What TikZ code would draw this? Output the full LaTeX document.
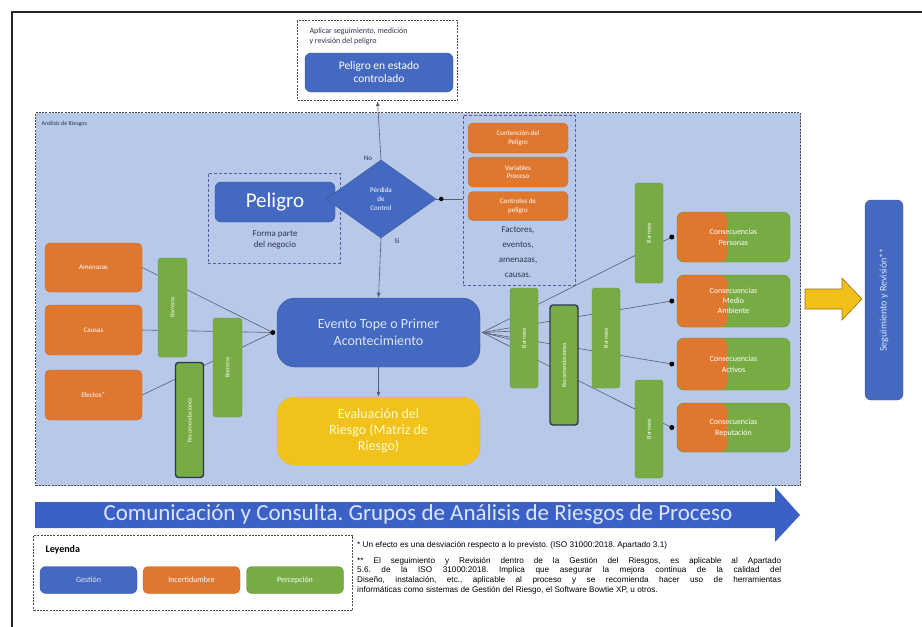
\documentclass[tikz,border=0pt]{standalone}
\usepackage{fontspec}
\setmainfont{Carlito}
\newfontfamily\notefont{Liberation Sans}
\usetikzlibrary{shapes.geometric,arrows.meta}
\pgfdeclarelayer{bg}
\pgfdeclarelayer{lines}
\pgfsetlayers{bg,lines,main}
\definecolor{bgblue}{HTML}{B8C8E8}
\definecolor{gblue}{HTML}{4469C0}
\definecolor{iorange}{HTML}{E0772F}
\definecolor{pgreen}{HTML}{76AC43}
\definecolor{gyellow}{HTML}{F2C21C}
\definecolor{abblue}{HTML}{3C61C6}
\definecolor{txtlight}{HTML}{DCE6FA}
\definecolor{darktxt}{HTML}{2E3550}
\newcommand\fsz[2]{\fontsize{#1}{#2}\selectfont}
\frenchspacing
\begin{document}
\begin{tikzpicture}[x=1pt,y=-1pt,
  gbox/.style={draw=gblue!80!black, fill=gblue, rounded corners=6pt, text=white, align=center, inner sep=1pt},
  obox/.style={draw=iorange!90!black, fill=iorange, rounded corners=5pt, text=white, align=center, inner sep=1pt, font=\fsz{7}{8.5}},
  gren/.style={draw=pgreen!90!black, fill=pgreen, rounded corners=3pt, text=white, align=center, inner sep=0pt, rotate=90, font=\fsz{6}{7}},
  recom/.style={gren, draw=darktxt, line width=1.4pt},
  cons/.style={rounded corners=7pt, fill=pgreen, draw=pgreen!85!black, text=white, align=center, inner sep=0pt,
     minimum width=113pt, font=\fsz{8}{11},
     path picture={\fill[iorange] (path picture bounding box.south west) rectangle ([xshift=-6.5pt]path picture bounding box.north);}},
  dashbox/.style={draw=black!70, line width=1.1pt, dash pattern=on 2pt off 1.2pt, inner sep=0pt},
  thindash/.style={draw=gray!70!blue, densely dashed, line width=0.5pt, inner sep=0pt},
  conn/.style={draw=darktxt!80, line width=0.6pt}
]
\useasboundingbox (0,0) rectangle (922,627);

% outer frame (top and left)
\draw[line width=2.5pt, black!85] (12,627) -- (12,12) -- (922,12);

% analysis area
\begin{pgfonlayer}{bg}
\node[dashbox, fill=bgblue, minimum width=765pt, minimum height=373pt, anchor=north west] (an) at (35,112) {};
\end{pgfonlayer}
\node[anchor=north west, font=\fsz{6}{7}, text=darktxt] (anlbl) at (38,118) {Análisis de Riesgos};

% top box
\node[dashbox, fill=white, minimum width=160pt, minimum height=80pt, anchor=north west] (topbox) at (297,20) {};
\node[anchor=north west, font=\fsz{8}{10.5}, align=left, text=darktxt] (toplbl) at (306,24) {Aplicar seguimiento, medición\\y revisión del peligro};
\node[gbox, minimum width=148pt, minimum height=39pt, font=\fsz{11.5}{13}] (ctrl) at (379,72.5) {Peligro en estado\\controlado};

% peligro
\node[thindash, minimum width=132pt, minimum height=90pt] (pbox) at (274,218) {};
\node[gbox, minimum width=120pt, minimum height=40pt, font=\fsz{21}{22}] (pel) at (275,202) {Peligro};
\node[font=\fsz{9}{11}, align=center, text=darktxt] (forma) at (275,240) {Forma parte\\del negocio};

% diamond
\node[diamond, draw=gblue!80!black, fill=gblue, minimum width=110pt, minimum height=78pt, inner sep=0pt,
  text=white, align=center, font=\fsz{7}{9}] (dia) at (381,199) {Pérdida\\de\\Control};
\node[font=\fsz{7}{8}, text=darktxt] (no) at (368,158) {No};
\node[font=\fsz{7}{8}, text=darktxt] (si) at (397,241) {Si};

% right dashed box
\node[thindash, minimum width=112pt, minimum height=170pt] (rbox) at (519,200) {};
\node[obox, minimum width=100pt, minimum height=30pt] (cont) at (518,138) {Contención del\\Peligro};
\node[obox, minimum width=100pt, minimum height=30pt] (vari) at (518,172) {Variables\\Proceso};
\node[obox, minimum width=100pt, minimum height=29pt] (cpel) at (518,206) {Controles de\\peligro};
\node[font=\fsz{9}{15}, align=center, text=darktxt] (fact) at (518,252) {Factores,\\eventos,\\amenazas,\\causas.};

% left orange
\node[obox, minimum width=97pt, minimum height=49pt] (ame) at (93.5,267.5) {Amenazas};
\node[obox, minimum width=97pt, minimum height=50pt] (cau) at (93.5,330) {Causas};
\node[obox, minimum width=97pt, minimum height=50pt] (efe) at (93.5,395) {Efectos$^{*}$};

% left barriers
\node[gren, minimum width=99pt, minimum height=29pt] (bl1) at (172.5,307.5) {Barreras};
\node[gren, minimum width=99pt, minimum height=29pt] (bl2) at (227.5,367.5) {Barreras};
\node[recom, minimum width=115pt, minimum height=28pt] (rl) at (189.5,420) {Recomendaciones};

% central nodes
\node[gbox, rounded corners=18pt, minimum width=203pt, minimum height=69pt, font=\fsz{14}{17}, text=txtlight] (ev) at (378.5,332.5) {Evento Tope o Primer\\Acontecimiento};
\node[draw=gyellow!85!orange, fill=gyellow, rounded corners=18pt, minimum width=203pt, minimum height=68pt, align=center,
  font=\fsz{14}{16}, text=yellow!20, inner sep=1pt] (eva) at (378.5,431) {Evaluación del\\Riesgo (Matriz de\\Riesgo)};

% right barriers
\node[gren, minimum width=100pt, minimum height=28pt] (br1) at (524,338) {Barreras};
\node[recom, minimum width=120pt, minimum height=28pt] (rr) at (564,365) {Recomendaciones};
\node[gren, minimum width=100pt, minimum height=28pt] (br2) at (606,338) {Barreras};
\node[gren, minimum width=100pt, minimum height=28pt] (br3) at (649,233) {Barreras};
\node[gren, minimum width=98pt, minimum height=28pt] (br4) at (649,429) {Barreras};

% consequences
\node[cons, minimum height=50pt] (cP) at (733.5,237) {Consecuencias\\Personas};
\node[cons, minimum height=52pt, font=\fsz{8}{10}] (cM) at (733.5,301) {Consecuencias\\Medio\\Ambiente};
\node[cons, minimum height=52pt] (cA) at (733.5,364) {Consecuencias\\Activos};
\node[cons, minimum height=49pt] (cR) at (733.5,427.5) {Consecuencias\\Reputación};

\coordinate (dP) at ([xshift=-5pt]cP.west);
\coordinate (dM) at ([xshift=-5pt]cM.west);
\coordinate (dA) at ([xshift=-5pt]cA.west);
\coordinate (dR) at ([xshift=-5pt]cR.west);
\coordinate (dL) at ([xshift=-4pt]ev.west);
\coordinate (eR) at ([xshift=2pt]ev.east);

\begin{pgfonlayer}{lines}
\draw[conn] (ame.east) -- (dL);
\draw[conn] (cau.east) -- (dL);
\draw[conn] (efe.east) -- (dL);
\draw[conn] (eR) -- (dP);
\draw[conn] (eR) -- (dM);
\draw[conn] (eR) -- (dA);
\draw[conn] (eR) -- (dR);
\draw[conn] (eR) -- ([yshift=-8pt]br1.south);
\draw[conn] (eR) -- ([yshift=8pt]br1.south);
\end{pgfonlayer}
\foreach \d in {dP,dM,dA,dR,dL} \fill (\d) circle (2.5pt);

% vertical connectors
\draw[conn, -{Latex[length=5pt,width=4pt]}] (dia.north) -- (topbox.south);
\draw[conn, -{Latex[length=5pt,width=4pt]}] (dia.south) -- (ev.north);
\draw[conn, -{Latex[length=5pt,width=4pt]}] (ev.south) -- (eva.north);
\draw[conn] (dia.east) -- (rbox.west |- dia.east);
\fill ([xshift=5pt]dia.east) circle (2.2pt);

% yellow arrow and seguimiento
\draw[fill=gyellow!95!orange, draw=gyellow!60!black, line width=0.6pt]
  (805,289) -- (842,289) -- (842,278) -- (862,299) -- (842,320) -- (842,309) -- (805,309) -- cycle;
\node[gbox, rotate=90, minimum width=200pt, minimum height=38pt, font=\fsz{10}{12}, text=txtlight] (seg) at (884,300) {Seguimiento y Revisión**};

% big arrow
\fill[abblue] (35,502) -- (775,502) -- (775,487) -- (800,515) -- (775,542) -- (775,528) -- (35,528) -- cycle;
\node[font=\fsz{23}{24}, text=txtlight] (com) at (418,514) {Comunicación y Consulta. Grupos de Análisis de Riesgos de Proceso};

% legend
\node[dashbox, minimum width=319pt, minimum height=75pt, anchor=north west] (leg) at (33,535) {};
\node[anchor=west, font=\bfseries\fsz{10}{12}] (leyenda) at (42,550) {Leyenda};
\node[gbox, minimum width=97pt, minimum height=27pt, font=\fsz{8}{9}, text=txtlight] (lg1) at (88.5,580) {Gestión};
\node[obox, minimum width=97pt, minimum height=27pt, font=\fsz{8}{9}] (lg2) at (191.5,580) {Incertidumbre};
\node[draw=pgreen!80!black, fill=pgreen, rounded corners=5pt, text=white, minimum width=97pt, minimum height=27pt, font=\fsz{8}{9}] (lg3) at (295,580) {Percepción};

% notes
\node[anchor=north west, text width=424pt, align=justify, font=\notefont\fsz{8.2}{9.8}, inner sep=0pt] (notes) at (357,541)
{\frenchspacing * Un efecto es una desviación respecto a lo previsto. (ISO 31000:2018. Apartado 3.1)\par\vspace{6pt}
** El seguimiento y Revisión dentro de la Gestión del Riesgos, es aplicable al Apartado\linebreak
5.6. de la ISO 31000:2018. Implica que asegurar la mejora continua de la calidad del\linebreak
Diseño, instalación, etc., aplicable al proceso y se recomienda hacer uso de herramientas\linebreak
informáticas como sistemas de Gestión del Riesgo, el Software Bowtie XP, u otros.};
\end{tikzpicture}
\end{document}
